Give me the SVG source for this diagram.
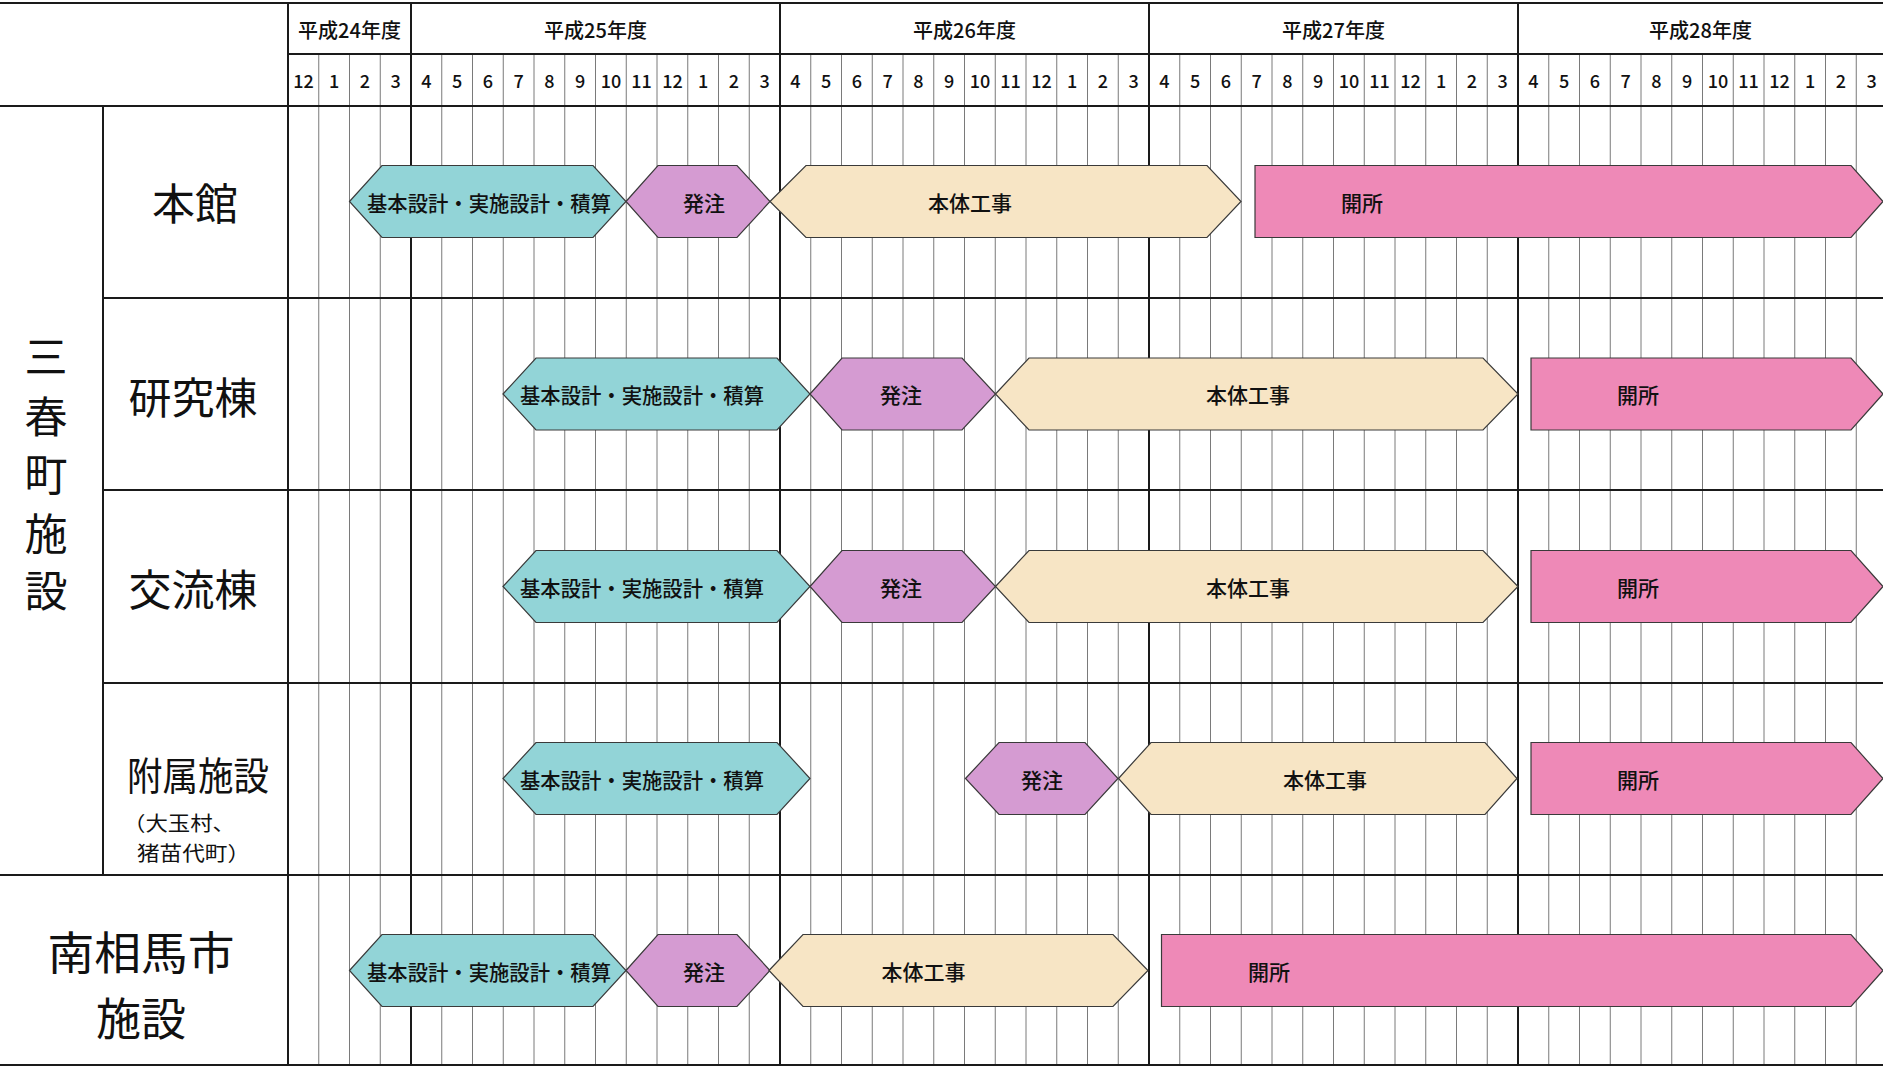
<svg xmlns="http://www.w3.org/2000/svg" width="1883" height="1067" viewBox="0 0 1883 1067">
<style>
text{font-family:"Noto Sans CJK JP","Noto Sans",sans-serif;fill:#111;}
.hd{font-size:20px;font-weight:500;text-anchor:middle;dominant-baseline:central;}
.mn{font-size:18px;font-weight:500;text-anchor:middle;dominant-baseline:central;}
.lb{font-size:43px;text-anchor:middle;dominant-baseline:central;}
.sub{font-size:20px;dominant-baseline:central;}
.bt{font-size:21px;font-weight:500;text-anchor:middle;dominant-baseline:central;}
.ml{stroke:#7a7a7a;stroke-width:1;}
.yl{stroke:#1a1a1a;stroke-width:2;}
.hl{stroke:#1a1a1a;stroke-width:2;}
.design{fill:#92d4d7;stroke:#3a3a3a;stroke-width:1.2;}
.order{fill:#d59bd2;stroke:#3a3a3a;stroke-width:1.2;}
.build{fill:#f7e5c5;stroke:#3a3a3a;stroke-width:1.2;}
.open{fill:#ee89b7;stroke:#3a3a3a;stroke-width:1.2;}
</style>
<rect x="0" y="0" width="1883" height="1067" fill="#ffffff"/>
<g id="grid">
<g class="ml">
<line x1="318.75" y1="54" x2="318.75" y2="1065"/><line x1="349.5" y1="54" x2="349.5" y2="1065"/><line x1="380.25" y1="54" x2="380.25" y2="1065"/>
<line x1="441.75" y1="54" x2="441.75" y2="1065"/><line x1="472.5" y1="54" x2="472.5" y2="1065"/><line x1="503.25" y1="54" x2="503.25" y2="1065"/><line x1="534" y1="54" x2="534" y2="1065"/><line x1="564.75" y1="54" x2="564.75" y2="1065"/><line x1="595.5" y1="54" x2="595.5" y2="1065"/><line x1="626.25" y1="54" x2="626.25" y2="1065"/><line x1="657" y1="54" x2="657" y2="1065"/><line x1="687.75" y1="54" x2="687.75" y2="1065"/><line x1="718.5" y1="54" x2="718.5" y2="1065"/><line x1="749.25" y1="54" x2="749.25" y2="1065"/>
<line x1="810.75" y1="54" x2="810.75" y2="1065"/><line x1="841.5" y1="54" x2="841.5" y2="1065"/><line x1="872.25" y1="54" x2="872.25" y2="1065"/><line x1="903" y1="54" x2="903" y2="1065"/><line x1="933.75" y1="54" x2="933.75" y2="1065"/><line x1="964.5" y1="54" x2="964.5" y2="1065"/><line x1="995.25" y1="54" x2="995.25" y2="1065"/><line x1="1026" y1="54" x2="1026" y2="1065"/><line x1="1056.75" y1="54" x2="1056.75" y2="1065"/><line x1="1087.5" y1="54" x2="1087.5" y2="1065"/><line x1="1118.25" y1="54" x2="1118.25" y2="1065"/>
<line x1="1179.75" y1="54" x2="1179.75" y2="1065"/><line x1="1210.5" y1="54" x2="1210.5" y2="1065"/><line x1="1241.25" y1="54" x2="1241.25" y2="1065"/><line x1="1272" y1="54" x2="1272" y2="1065"/><line x1="1302.75" y1="54" x2="1302.75" y2="1065"/><line x1="1333.5" y1="54" x2="1333.5" y2="1065"/><line x1="1364.25" y1="54" x2="1364.25" y2="1065"/><line x1="1395" y1="54" x2="1395" y2="1065"/><line x1="1425.75" y1="54" x2="1425.75" y2="1065"/><line x1="1456.5" y1="54" x2="1456.5" y2="1065"/><line x1="1487.25" y1="54" x2="1487.25" y2="1065"/>
<line x1="1548.75" y1="54" x2="1548.75" y2="1065"/><line x1="1579.5" y1="54" x2="1579.5" y2="1065"/><line x1="1610.25" y1="54" x2="1610.25" y2="1065"/><line x1="1641" y1="54" x2="1641" y2="1065"/><line x1="1671.75" y1="54" x2="1671.75" y2="1065"/><line x1="1702.5" y1="54" x2="1702.5" y2="1065"/><line x1="1733.25" y1="54" x2="1733.25" y2="1065"/><line x1="1764" y1="54" x2="1764" y2="1065"/><line x1="1794.75" y1="54" x2="1794.75" y2="1065"/><line x1="1825.5" y1="54" x2="1825.5" y2="1065"/><line x1="1856.25" y1="54" x2="1856.25" y2="1065"/>
</g>
<g class="yl">
<line x1="288" y1="3" x2="288" y2="1065"/><line x1="411" y1="3" x2="411" y2="1065"/><line x1="780" y1="3" x2="780" y2="1065"/><line x1="1149" y1="3" x2="1149" y2="1065"/><line x1="1518" y1="3" x2="1518" y2="1065"/>
<line x1="103" y1="106" x2="103" y2="875"/>
</g>
<g class="hl">
<line x1="0" y1="3" x2="1883" y2="3"/>
<line x1="288" y1="54" x2="1883" y2="54"/>
<line x1="0" y1="106" x2="1883" y2="106"/>
<line x1="103" y1="298" x2="1883" y2="298"/>
<line x1="103" y1="490" x2="1883" y2="490"/>
<line x1="103" y1="683" x2="1883" y2="683"/>
<line x1="0" y1="875" x2="1883" y2="875"/>
<line x1="0" y1="1065" x2="1883" y2="1065"/>
</g>
</g>
<g id="header">
<text class="hd" x="349.5" y="29">平成24年度</text>
<text class="hd" x="595.5" y="29">平成25年度</text>
<text class="hd" x="964.5" y="29">平成26年度</text>
<text class="hd" x="1333.5" y="29">平成27年度</text>
<text class="hd" x="1700.5" y="29">平成28年度</text>
<text class="mn" x="303.4" y="80">12</text><text class="mn" x="334.1" y="80">1</text><text class="mn" x="364.9" y="80">2</text><text class="mn" x="395.6" y="80">3</text>
<text class="mn" x="426.4" y="80">4</text><text class="mn" x="457.1" y="80">5</text><text class="mn" x="487.9" y="80">6</text><text class="mn" x="518.6" y="80">7</text><text class="mn" x="549.4" y="80">8</text><text class="mn" x="580.1" y="80">9</text><text class="mn" x="610.9" y="80">10</text><text class="mn" x="641.6" y="80">11</text><text class="mn" x="672.4" y="80">12</text><text class="mn" x="703.1" y="80">1</text><text class="mn" x="733.9" y="80">2</text><text class="mn" x="764.6" y="80">3</text>
<text class="mn" x="795.4" y="80">4</text><text class="mn" x="826.1" y="80">5</text><text class="mn" x="856.9" y="80">6</text><text class="mn" x="887.6" y="80">7</text><text class="mn" x="918.4" y="80">8</text><text class="mn" x="949.1" y="80">9</text><text class="mn" x="979.9" y="80">10</text><text class="mn" x="1010.6" y="80">11</text><text class="mn" x="1041.4" y="80">12</text><text class="mn" x="1072.1" y="80">1</text><text class="mn" x="1102.9" y="80">2</text><text class="mn" x="1133.6" y="80">3</text>
<text class="mn" x="1164.4" y="80">4</text><text class="mn" x="1195.1" y="80">5</text><text class="mn" x="1225.9" y="80">6</text><text class="mn" x="1256.6" y="80">7</text><text class="mn" x="1287.4" y="80">8</text><text class="mn" x="1318.1" y="80">9</text><text class="mn" x="1348.9" y="80">10</text><text class="mn" x="1379.6" y="80">11</text><text class="mn" x="1410.4" y="80">12</text><text class="mn" x="1441.1" y="80">1</text><text class="mn" x="1471.9" y="80">2</text><text class="mn" x="1502.6" y="80">3</text>
<text class="mn" x="1533.4" y="80">4</text><text class="mn" x="1564.1" y="80">5</text><text class="mn" x="1594.9" y="80">6</text><text class="mn" x="1625.6" y="80">7</text><text class="mn" x="1656.4" y="80">8</text><text class="mn" x="1687.1" y="80">9</text><text class="mn" x="1717.9" y="80">10</text><text class="mn" x="1748.6" y="80">11</text><text class="mn" x="1779.4" y="80">12</text><text class="mn" x="1810.1" y="80">1</text><text class="mn" x="1840.9" y="80">2</text><text class="mn" x="1871.6" y="80">3</text>
</g>
<g id="labels">
<text class="lb" x="46" y="354">三</text>
<text class="lb" x="46" y="414">春</text>
<text class="lb" x="46" y="472">町</text>
<text class="lb" x="46" y="531">施</text>
<text class="lb" x="46" y="588">設</text>
<text class="lb" x="195" y="201">本館</text>
<text class="lb" x="193" y="395">研究棟</text>
<text class="lb" x="193" y="587">交流棟</text>
<text class="lb" x="198" y="773" style="font-size:39px" textLength="142" lengthAdjust="spacingAndGlyphs">附属施設</text>
<text class="sub" x="123" y="822" textLength="112" lengthAdjust="spacingAndGlyphs">（大玉村、</text>
<text class="sub" x="137" y="852" textLength="113" lengthAdjust="spacingAndGlyphs">猪苗代町）</text>
<text class="lb" x="141" y="950" style="font-size:45px" textLength="187" lengthAdjust="spacingAndGlyphs">南相馬市</text>
<text class="lb" x="141" y="1016" style="font-size:45px">施設</text>
</g>
<g id="row1-honkan">
<polygon class="design" points="349.5,201.5 382,165.5 593,165.5 626,201.5 593,237.5 382,237.5"/>
<text class="bt" x="489" y="201.5" textLength="244" lengthAdjust="spacingAndGlyphs">基本設計・実施設計・積算</text>
<polygon class="order" points="626,201.5 658,165.5 737,165.5 770,201.5 737,237.5 658,237.5"/>
<text class="bt" x="704" y="201.5">発注</text>
<polygon class="build" points="770,201.5 806,165.5 1207,165.5 1241,201.5 1207,237.5 806,237.5"/>
<text class="bt" x="970" y="201.5">本体工事</text>
<polygon class="open" points="1255,165.5 1851,165.5 1883,201.5 1851,237.5 1255,237.5"/>
<text class="bt" x="1362" y="201.5">開所</text>
</g>
<g id="row2-kenkyu">
<polygon class="design" points="503,394 536,358 777,358 810,394 777,430 536,430"/>
<text class="bt" x="642" y="394" textLength="244" lengthAdjust="spacingAndGlyphs">基本設計・実施設計・積算</text>
<polygon class="order" points="810,394 842,358 962,358 995.5,394 962,430 842,430"/>
<text class="bt" x="901" y="394">発注</text>
<polygon class="build" points="995.5,394 1029,358 1483,358 1518,394 1483,430 1029,430"/>
<text class="bt" x="1248" y="394">本体工事</text>
<polygon class="open" points="1531,358 1851,358 1883,394 1851,430 1531,430"/>
<text class="bt" x="1638" y="394">開所</text>
</g>
<g id="row3-koryu">
<polygon class="design" points="503,586.5 536,550.5 777,550.5 810,586.5 777,622.5 536,622.5"/>
<text class="bt" x="642" y="586.5" textLength="244" lengthAdjust="spacingAndGlyphs">基本設計・実施設計・積算</text>
<polygon class="order" points="810,586.5 842,550.5 962,550.5 995.5,586.5 962,622.5 842,622.5"/>
<text class="bt" x="901" y="586.5">発注</text>
<polygon class="build" points="995.5,586.5 1029,550.5 1483,550.5 1518,586.5 1483,622.5 1029,622.5"/>
<text class="bt" x="1248" y="586.5">本体工事</text>
<polygon class="open" points="1531,550.5 1851,550.5 1883,586.5 1851,622.5 1531,622.5"/>
<text class="bt" x="1638" y="586.5">開所</text>
</g>
<g id="row4-fuzoku">
<polygon class="design" points="503,778.5 536,742.5 777,742.5 810,778.5 777,814.5 536,814.5"/>
<text class="bt" x="642" y="778.5" textLength="244" lengthAdjust="spacingAndGlyphs">基本設計・実施設計・積算</text>
<polygon class="order" points="965.5,778.5 999,742.5 1085,742.5 1118,778.5 1085,814.5 999,814.5"/>
<text class="bt" x="1042" y="778.5">発注</text>
<polygon class="build" points="1118.5,778.5 1151,742.5 1485,742.5 1517,778.5 1485,814.5 1151,814.5"/>
<text class="bt" x="1325" y="778.5">本体工事</text>
<polygon class="open" points="1531,742.5 1851,742.5 1883,778.5 1851,814.5 1531,814.5"/>
<text class="bt" x="1638" y="778.5">開所</text>
</g>
<g id="row5-minamisoma">
<polygon class="design" points="349.5,970.5 382,934.5 593,934.5 626,970.5 593,1006.5 382,1006.5"/>
<text class="bt" x="489" y="970.5" textLength="244" lengthAdjust="spacingAndGlyphs">基本設計・実施設計・積算</text>
<polygon class="order" points="626,970.5 658,934.5 737,934.5 770,970.5 737,1006.5 658,1006.5"/>
<text class="bt" x="704" y="970.5">発注</text>
<polygon class="build" points="769,970.5 803,934.5 1113,934.5 1148,970.5 1113,1006.5 803,1006.5"/>
<text class="bt" x="923.5" y="970.5">本体工事</text>
<polygon class="open" points="1161.5,934.5 1851,934.5 1883,970.5 1851,1006.5 1161.5,1006.5"/>
<text class="bt" x="1269" y="970.5">開所</text>
</g>
</svg>
